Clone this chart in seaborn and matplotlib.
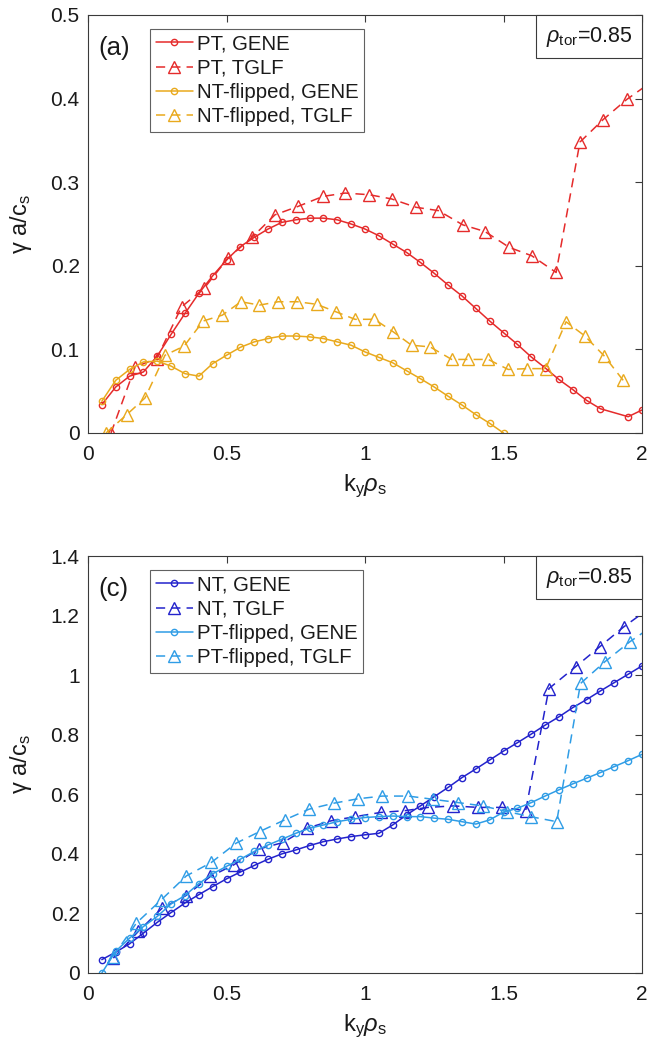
import numpy as np
import pandas as pd
import matplotlib
matplotlib.use("Agg")
import matplotlib.pyplot as plt
import seaborn as sns
from matplotlib.ticker import FuncFormatter

# ---------------- data: panel (a) ----------------
ky_pt_gene = [0.05, 0.10, 0.15, 0.20, 0.25, 0.30, 0.35, 0.40, 0.45, 0.50,
              0.55, 0.60, 0.65, 0.70, 0.75, 0.80, 0.85, 0.90, 0.95, 1.00,
              1.05, 1.10, 1.15, 1.20, 1.25, 1.30, 1.35, 1.40, 1.45, 1.50,
              1.55, 1.60, 1.65, 1.70, 1.75, 1.80, 1.85, 1.95, 2.00]
g_pt_gene = [0.034, 0.055, 0.068, 0.073, 0.092, 0.118, 0.143, 0.167, 0.188, 0.207,
             0.223, 0.234, 0.244, 0.252, 0.255, 0.257, 0.257, 0.255, 0.250, 0.244,
             0.236, 0.226, 0.216, 0.204, 0.191, 0.177, 0.164, 0.149, 0.134, 0.120,
             0.106, 0.091, 0.078, 0.064, 0.052, 0.039, 0.029, 0.0195, 0.0275]

ky_pt_tglf = [0.083, 0.170, 0.248, 0.338, 0.419, 0.505, 0.592, 0.675, 0.758, 0.848,
              0.928, 1.016, 1.096, 1.184, 1.265, 1.353, 1.433, 1.521, 1.602, 1.690,
              1.776, 1.860, 1.945, 2.030]
g_pt_tglf = [0.000, 0.079, 0.089, 0.151, 0.173, 0.209, 0.234, 0.261, 0.271, 0.283,
             0.287, 0.285, 0.280, 0.270, 0.266, 0.249, 0.241, 0.222, 0.212, 0.192,
             0.348, 0.375, 0.399, 0.419]

ky_ntf_gene = [0.05, 0.10, 0.15, 0.20, 0.25, 0.30, 0.35, 0.40, 0.45, 0.50,
               0.55, 0.60, 0.65, 0.70, 0.75, 0.80, 0.85, 0.90, 0.95, 1.00,
               1.05, 1.10, 1.15, 1.20, 1.25, 1.30, 1.35, 1.40, 1.45, 1.50]
g_ntf_gene = [0.038, 0.063, 0.076, 0.085, 0.086, 0.080, 0.071, 0.068, 0.083, 0.093,
              0.1025, 0.109, 0.113, 0.116, 0.116, 0.115, 0.113, 0.109, 0.105, 0.097,
              0.0905, 0.084, 0.0745, 0.065, 0.055, 0.044, 0.0335, 0.022, 0.0116, 0.000]

ky_ntf_tglf = [0.065, 0.140, 0.206, 0.278, 0.347, 0.416, 0.485, 0.552, 0.619, 0.687,
               0.756, 0.825, 0.895, 0.964, 1.034, 1.102, 1.168, 1.235, 1.313, 1.373,
               1.445, 1.517, 1.584, 1.652, 1.726, 1.794, 1.864, 1.932]
g_ntf_tglf = [0.000, 0.022, 0.042, 0.093, 0.104, 0.134, 0.141, 0.157, 0.153, 0.157,
              0.157, 0.154, 0.145, 0.136, 0.136, 0.121, 0.105, 0.103, 0.088, 0.088,
              0.088, 0.076, 0.077, 0.077, 0.133, 0.116, 0.092, 0.063]

# ---------------- data: panel (c) ----------------
ky_nt_gene = [0.05, 0.10, 0.15, 0.20, 0.25, 0.30, 0.35, 0.40, 0.45, 0.50,
              0.55, 0.60, 0.65, 0.70, 0.75, 0.80, 0.85, 0.90, 0.95, 1.00,
              1.05, 1.10, 1.15, 1.20, 1.25, 1.30, 1.35, 1.40, 1.45, 1.50,
              1.55, 1.60, 1.65, 1.70, 1.75, 1.80, 1.85, 1.90, 1.95, 2.00]
g_nt_gene = [0.045, 0.070, 0.098, 0.134, 0.170, 0.203, 0.235, 0.263, 0.290, 0.316,
             0.339, 0.361, 0.382, 0.400, 0.413, 0.428, 0.441, 0.450, 0.458, 0.464,
             0.469, 0.497, 0.531, 0.561, 0.592, 0.623, 0.656, 0.685, 0.715, 0.745,
             0.773, 0.802, 0.832, 0.860, 0.891, 0.918, 0.947, 0.975, 1.003, 1.031]

ky_ptf_gene = ky_nt_gene
g_ptf_gene = [0.000, 0.073, 0.117, 0.156, 0.190, 0.232, 0.260, 0.300, 0.333, 0.358,
              0.382, 0.408, 0.430, 0.449, 0.469, 0.486, 0.497, 0.508, 0.516, 0.522,
              0.525, 0.527, 0.525, 0.525, 0.520, 0.516, 0.508, 0.500, 0.514, 0.540,
              0.553, 0.572, 0.594, 0.615, 0.635, 0.654, 0.673, 0.693, 0.713, 0.734]

ky_nt_tglf = [0.0915, 0.182, 0.268, 0.352, 0.442, 0.526, 0.616, 0.704, 0.790, 0.878,
              0.965, 1.056, 1.144, 1.228, 1.319, 1.407, 1.495, 1.580, 1.664, 1.760,
              1.847, 1.934, 2.020]
g_nt_tglf = [0.050, 0.140, 0.218, 0.259, 0.324, 0.363, 0.416, 0.438, 0.486, 0.511,
             0.525, 0.539, 0.545, 0.556, 0.561, 0.556, 0.556, 0.545, 0.955, 1.028,
             1.095, 1.162, 1.220]

ky_ptf_tglf = [0.090, 0.175, 0.265, 0.355, 0.445, 0.535, 0.620, 0.710, 0.798, 0.887,
               0.975, 1.063, 1.156, 1.247, 1.337, 1.425, 1.512, 1.598, 1.692, 1.778,
               1.866, 1.956, 2.040]
g_ptf_tglf = [0.055, 0.168, 0.246, 0.326, 0.371, 0.436, 0.475, 0.514, 0.550, 0.570,
              0.585, 0.594, 0.594, 0.583, 0.572, 0.561, 0.542, 0.525, 0.508, 0.972,
              1.045, 1.112, 1.166]

labels_a = ["PT, GENE", "PT, TGLF", "NT-flipped, GENE", "NT-flipped, TGLF"]
labels_c = ["NT, GENE", "NT, TGLF", "PT-flipped, GENE", "PT-flipped, TGLF"]
yticks_a = [0, 0.1, 0.2, 0.3, 0.4, 0.5]
yticks_c = [0, 0.2, 0.4, 0.6, 0.8, 1.0, 1.2, 1.4]
xticks = [0, 0.5, 1, 1.5, 2]

RED = "#e52b2b"
YEL = "#e9a91d"
DBLUE = "#2323cc"
LBLUE = "#2f9de6"

sns.set_theme(style="white")
plt.rcParams["font.family"] = ["Liberation Sans", "DejaVu Sans"]
plt.rcParams["mathtext.fontset"] = "custom"
plt.rcParams["mathtext.rm"] = "Liberation Sans"
plt.rcParams["mathtext.it"] = "Liberation Sans:italic"
plt.rcParams["mathtext.default"] = "regular"
AX_COLOR = "#3a3a3a"
TXT = "#1a1a1a"

fig = plt.figure(figsize=(6.48, 10.51), dpi=100)
ax_a = fig.add_axes([88/648, 1-433/1051, 554/648, 418/1051])
ax_c = fig.add_axes([88/648, 1-973/1051, 554/648, 417/1051])

fmt = FuncFormatter(lambda v, p: "%g" % round(v, 3))


def draw(ax, x, y, color, marker, dashed, label):
    ms = 4.5 if marker == "o" else 8.5
    sns.lineplot(x=x, y=y, ax=ax, color=color, marker=marker,
                 linestyle=(0, (6, 4)) if dashed else "-", linewidth=1.1,
                 markersize=ms, markerfacecolor="none", markeredgecolor=color,
                 markeredgewidth=1.0, label=label, sort=False, estimator=None)


draw(ax_a, ky_pt_gene, g_pt_gene, RED, "o", False, labels_a[0])
draw(ax_a, ky_pt_tglf, g_pt_tglf, RED, "^", True, labels_a[1])
draw(ax_a, ky_ntf_gene, g_ntf_gene, YEL, "o", False, labels_a[2])
draw(ax_a, ky_ntf_tglf, g_ntf_tglf, YEL, "^", True, labels_a[3])

draw(ax_c, ky_nt_gene, g_nt_gene, DBLUE, "o", False, labels_c[0])
draw(ax_c, ky_nt_tglf, g_nt_tglf, DBLUE, "^", True, labels_c[1])
draw(ax_c, ky_ptf_gene, g_ptf_gene, LBLUE, "o", False, labels_c[2])
draw(ax_c, ky_ptf_tglf, g_ptf_tglf, LBLUE, "^", True, labels_c[3])

for ax, yt, lab in [(ax_a, yticks_a, "(a)"), (ax_c, yticks_c, "(c)")]:
    ax.set_xlim(0, 2)
    ax.set_ylim(yt[0], yt[-1])
    ax.set_xticks(xticks)
    ax.set_yticks(yt)
    ax.xaxis.set_major_formatter(fmt)
    ax.yaxis.set_major_formatter(fmt)
    ax.tick_params(direction="in", top=True, right=True, length=5, width=0.8,
                   labelsize=15, colors=AX_COLOR, labelcolor=TXT)
    ax.tick_params(axis="x", pad=9)
    ax.tick_params(axis="y", pad=6)
    for s in ax.spines.values():
        s.set_color(AX_COLOR)
        s.set_linewidth(0.8)
        s.set_visible(True)
    ax.set_xlabel(r"k$_{y}$$\mathit{\rho}_{s}$", fontsize=17, color=TXT, labelpad=6)
    ax.set_ylabel(r"$\gamma$ a/c$_{s}$", fontsize=17, color=TXT, labelpad=12)
    ax.text(0.018, 0.949, lab, transform=ax.transAxes, fontsize=18.5,
            ha="left", va="top", color=TXT)
    ax.text(0.982, 0.977, r"$\mathit{\rho}_{tor}$=0.85", transform=ax.transAxes,
            fontsize=15.5, ha="right", va="top", color=TXT,
            bbox=dict(boxstyle="square,pad=0.45", fc="white", ec=AX_COLOR, lw=0.8))
    leg = ax.legend(loc="upper left", bbox_to_anchor=(0.112, 0.967), fontsize=14.7,
                    frameon=True, fancybox=False, edgecolor=AX_COLOR,
                    handlelength=1.8, handletextpad=0.22, labelspacing=0.26,
                    borderpad=0.28, borderaxespad=0.0, numpoints=1)
    leg.get_frame().set_linewidth(0.8)
    for t in leg.get_texts():
        t.set_color(TXT)

fig.savefig("out.png", dpi=100)
